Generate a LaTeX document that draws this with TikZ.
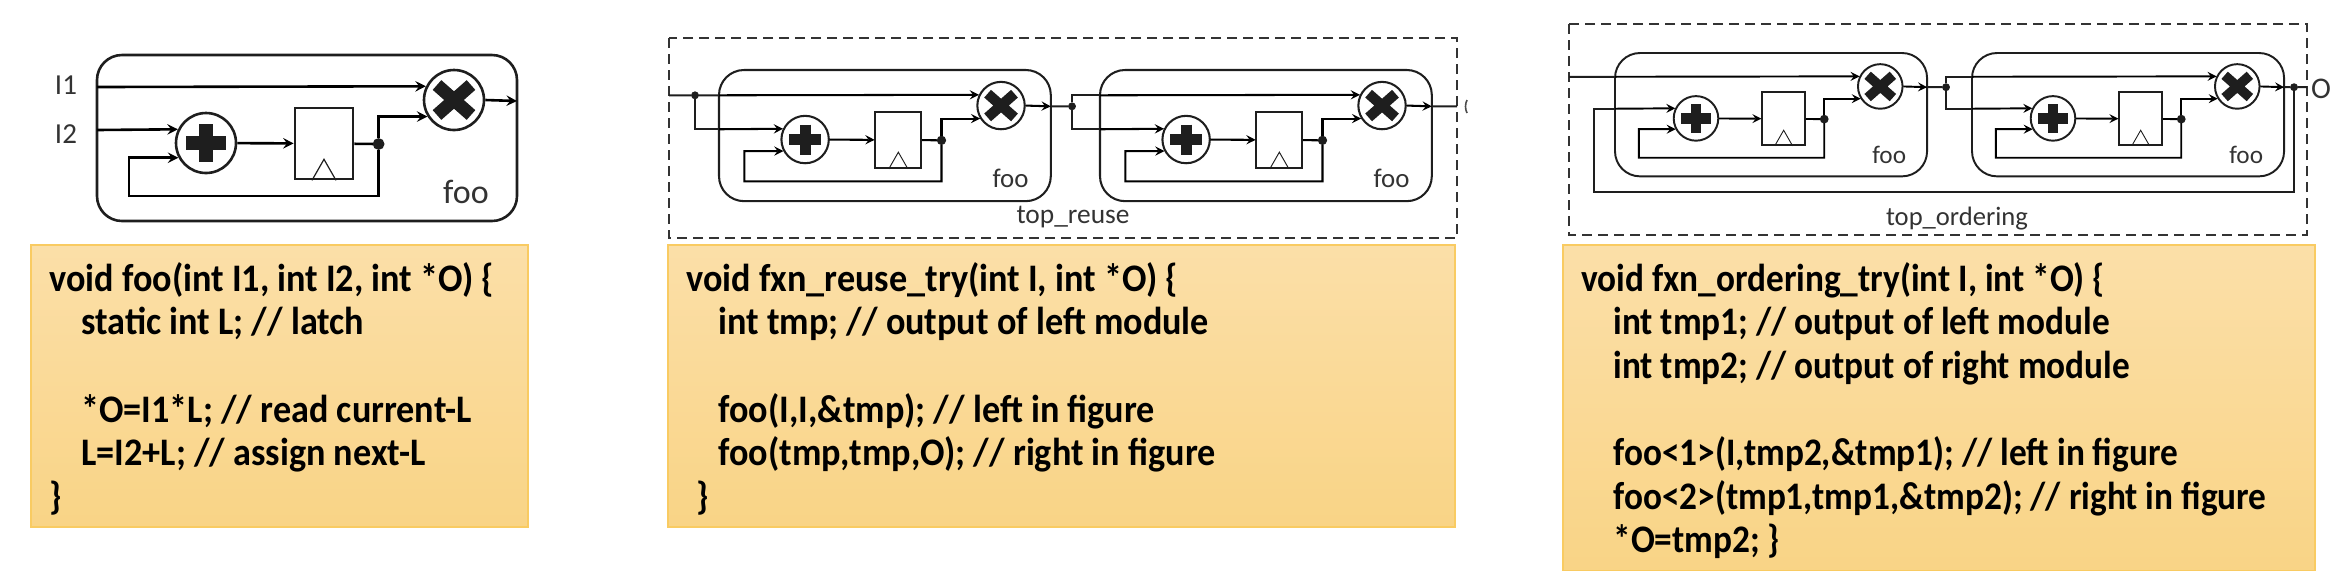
\documentclass[tikz,border=0pt]{standalone}
\usepackage{fontspec}
\setmainfont{Carlito}
\newfontfamily\codefont[FakeStretch=0.928]{Carlito}
\newfontfamily\codefontnarrow[FakeStretch=0.905]{Carlito}
\usetikzlibrary{positioning,shapes.geometric}

\definecolor{codetop}{HTML}{FBDFA8}
\definecolor{codebottom}{HTML}{F9D486}
\definecolor{codeedge}{HTML}{F9CB62}
\definecolor{wirecol}{HTML}{1E1E1E}

\tikzset{
    codebox/.style={draw=codeedge, line width=0.6pt, top color=codetop, bottom color=codebottom, inner sep=0pt},
    codetext/.style={anchor=north west, align=left, inner sep=0pt, font=\codefont\bfseries\fontsize{19.5}{21.8}\selectfont},
    opcircle/.style={draw=wirecol, fill=white, circle, minimum size=60*0.5pt, inner sep=0pt},
    latchbox/.style={draw=wirecol, fill=white, rectangle, minimum width=58*0.5pt, minimum height=71*0.5pt, inner sep=0pt},
    cellbox/.style={draw=wirecol, rectangle, rounded corners=12.5pt, minimum width=420*0.5pt, minimum height=166*0.5pt, inner sep=0pt},
    joint/.style={draw=wirecol, fill=wirecol, circle, minimum size=4.5pt, inner sep=0pt},
    celllabel/.style={text=black!80, inner sep=0pt, font=\fontsize{17}{19}\selectfont},
    pinlabel/.style={text=black!80, inner sep=0pt, font=\fontsize{14.5}{16}\selectfont},
    toplabel/.style={text=black!80, inner sep=0pt, font=\fontsize{13.7}{15}\selectfont},
    topbox/.style={draw=black!80, line width=1.1pt, dash pattern=on 5pt off 3pt},
    wire/.style={draw=wirecol, line width=1pt},
}

% one foo module: #1 name, #2 left, #3 top, #4 scale
\newcommand{\foocell}[4]{
    \begin{scope}[shift={(#2,#3)}, scale=#4, every node/.append style={transform shape}, line width=1.3pt*#4]
        \node[cellbox] (#1box) at (210,83) {};
        \node[opcircle] (#1plus) at (109,88) {};
        \node[opcircle] (#1mult) at (357,45) {};
        \node[latchbox] (#1latch) at (227,88.5) {};
        \node[joint] (#1join) at (281.6,89) {};
        \node[celllabel] (#1name) at (369,137) {foo};
        \coordinate (#1inA) at (0,32);
        \coordinate (#1inB) at (0,75);
        \coordinate (#1out) at (420,46);
        \coordinate (#1fbL) at (32,141);
        \coordinate (#1fbR) at (281.6,141);
        % operator signs
        \draw[line width=7pt*#4, wirecol] (#1plus.center) +(-20,0) -- +(20,0) +(0,-19) -- +(0,19);
        \draw[line width=6.5pt*#4, wirecol] (#1mult.center) +(-17,-15) -- +(17,15) +(-17,15) -- +(17,-15);
        % clock mark of the latch
        \draw[line width=0.6pt*#4, wirecol] (#1latch.south) +(-12,0) -- +(0,-21) -- +(12,0);
        % wires
        \draw[->] (#1inA) -- (#1mult.154);
        \draw[->] (#1inB) -- (#1plus.154);
        \draw[->] (#1plus) -- (#1latch);
        \draw (#1latch) -- (#1join);
        \draw[->] (#1join) |- (#1mult.212);
        \draw[->] (#1join) -- (#1fbR) -- (#1fbL) |- (#1plus.208);
        \draw[->] (#1mult.east) -- (#1out);
    \end{scope}
}

\begin{document}
\begin{tikzpicture}[>=stealth, x=0.5pt, y=-0.5pt]

    \useasboundingbox (0,0) rectangle (2348,570);

    % =================================================================
    % 1. CODE BOXES
    % =================================================================
    \node[codebox, minimum width=497*0.5pt, minimum height=282*0.5pt] (codeFoo) at (279.5,386) {};
    \node[codebox, minimum width=787*0.5pt, minimum height=282*0.5pt] (codeReuse) at (1061.5,386) {};
    \node[codebox, minimum width=752*0.5pt, minimum height=326*0.5pt] (codeOrder) at (1939,408) {};

    \node[codetext] (textFoo) at (49,262) {void foo(int I1, int I2, int *O) \{\\
        \hspace*{16pt}static int L; // latch\\[21.8pt]
        \hspace*{16pt}*O=I1*L; // read current-L\\
        \hspace*{16pt}L=I2+L; // assign next-L\\
        \}};
    \node[codetext] (textReuse) at (686,262) {void fxn\_reuse\_try(int I, int *O) \{\\
        \hspace*{16pt}int tmp; // output of left module\\[21.8pt]
        \hspace*{16pt}foo(I,I,\&tmp); // left in figure\\
        \hspace*{16pt}foo(tmp,tmp,O); // right in figure\\
        \hspace*{5pt}\}};
    \node[codetext, font=\codefontnarrow\bfseries\fontsize{19.5}{21.8}\selectfont] (textOrder) at (1581,262) {void fxn\_ordering\_try(int I, int *O) \{\\
        \hspace*{16pt}int tmp1; // output of left module\\
        \hspace*{16pt}int tmp2; // output of right module\\[21.8pt]
        \hspace*{16pt}foo<1>(I,tmp2,\&tmp1); // left in figure\\
        \hspace*{16pt}foo<2>(tmp1,tmp1,\&tmp2); // right in figure\\
        \hspace*{16pt}*O=tmp2; \}};

    % =================================================================
    % 2. LEFT: SINGLE MODULE
    % =================================================================
    \foocell{single}{97}{55}{1}
    \node[pinlabel] (labelA) at (66,85) {I1};
    \node[pinlabel] (labelB) at (66,134) {I2};

    % =================================================================
    % 3. MIDDLE: TOP_REUSE
    % =================================================================
    \draw[topbox] (669,38) rectangle (1457,238);
    \foocell{reuseL}{719}{70}{0.79}
    \foocell{reuseR}{1100}{70}{0.79}
    \node[toplabel] (reuseName) at (1073,217) {top\_reuse};

    \coordinate (reuseIn) at (669,95.3);
    \coordinate (reuseEnd) at (1457,106.3);
    \node[joint, minimum size=3.5pt] (reuseSplit) at (695,95.3) {};
    \node[joint, minimum size=3.5pt] (reuseMid) at (1072,106.3) {};
    \draw[wire] (reuseIn) -- (reuseSplit) -- (reuseLinA);
    \draw[wire] (reuseSplit) |- (reuseLinB);
    \draw[wire] (reuseLout) -- (reuseMid);
    \draw[wire] (reuseMid) |- (reuseRinA);
    \draw[wire] (reuseMid) |- (reuseRinB);
    \draw[wire] (reuseRout) -- (reuseEnd);
    % edge of the cut off output letter
    \draw[line width=0.8pt, black!70] (1467,100) .. controls (1465,104) and (1465,109) .. (1467,113);

    % =================================================================
    % 4. RIGHT: TOP_ORDERING
    % =================================================================
    \draw[topbox] (1569,24) rectangle (2307,235);
    \foocell{orderL}{1615}{53}{0.743}
    \foocell{orderR}{1972}{53}{0.743}
    \node[toplabel, font=\fontsize{13.3}{15}\selectfont] (orderName) at (1957,219) {top\_ordering};
    \node[pinlabel, font=\fontsize{15}{16}\selectfont] (orderO) at (2321,89) {O};

    \coordinate (orderIn) at (1569,76.8);
    \coordinate (orderEnd) at (2307,87.2);
    \coordinate (orderLow) at (2294,192);
    \coordinate (orderBack) at (1594,192);
    \node[joint, minimum size=3.5pt] (orderMid) at (1946,87.2) {};
    \node[joint, minimum size=3.5pt] (orderTap) at (2294,87.2) {};
    \draw[wire] (orderIn) -- (orderLinA);
    \draw[wire] (orderLout) -- (orderMid);
    \draw[wire] (orderMid) |- (orderRinA);
    \draw[wire] (orderMid) |- (orderRinB);
    \draw[wire] (orderRout) -- (orderTap) -- (orderEnd);
    \draw[wire] (orderTap) -- (orderLow) -- (orderBack) |- (orderLinB);

\end{tikzpicture}
\end{document}
